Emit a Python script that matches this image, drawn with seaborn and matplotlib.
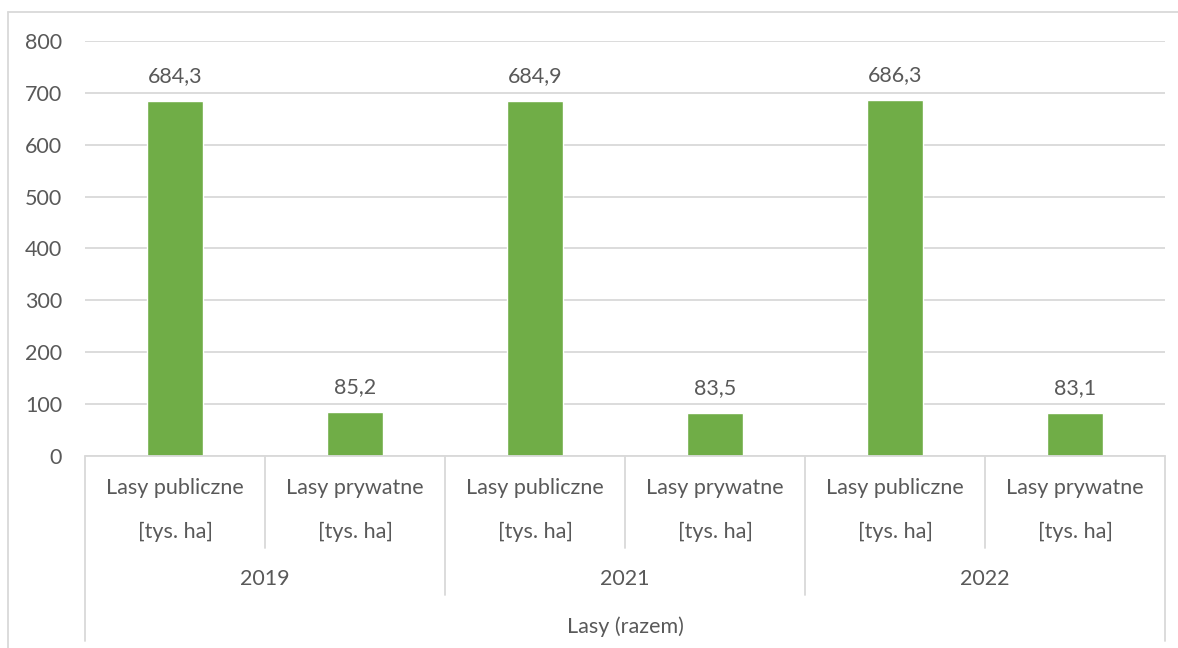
import matplotlib
matplotlib.use('Agg')
import matplotlib.pyplot as plt
import matplotlib.transforms as mtransforms
from matplotlib.lines import Line2D
import seaborn as sns
import pandas as pd

# data
years = ['2019', '2021', '2022']
kinds = ['Lasy publiczne', 'Lasy prywatne']
unit = '[tys. ha]'
values = [684.3, 85.2, 684.9, 83.5, 686.3, 83.1]
group_title = 'Lasy (razem)'
yticks = [0, 100, 200, 300, 400, 500, 600, 700, 800]

W, H = 1178, 648
TEXT = '#595959'
GRID = '#d9d9d9'
GREEN = '#70AD47'
FS = 15.5

sns.set_style('white')
plt.rcParams['font.family'] = ['Lato', 'DejaVu Sans']

keys = [f'{y}|{k}' for y in years for k in kinds]
df = pd.DataFrame({'key': keys, 'value': values})

fig = plt.figure(figsize=(W / 100, H / 100), dpi=100)
# plot area in pixels: x 85..1165, y 41..456 (from top)
x0, x1, ytop, ybot = 85, 1165, 41, 456
ax = fig.add_axes([x0 / W, 1 - ybot / H, (x1 - x0) / W, (ybot - ytop) / H])

sns.barplot(data=df, x='key', y='value', order=keys, color=GREEN,
            width=0.31, saturation=1, ax=ax, zorder=3)

ax.set_ylim(0, 800)
ax.set_xlim(-0.5, len(keys) - 0.5)
ax.set_yticks(yticks)
ax.set_yticklabels([str(t) for t in yticks], fontsize=FS, color=TEXT)
ax.tick_params(axis='y', length=0, pad=16.5)
ax.set_xticks([])
ax.set_xlabel('')
ax.set_ylabel('')
for s in ax.spines.values():
    s.set_visible(False)
ax.grid(axis='y', color=GRID, linewidth=1.3, zorder=0)
ax.set_axisbelow(True)

# data labels
for i, v in enumerate(values):
    ax.annotate(f'{v:.1f}'.replace('.', ','), (i, v), xytext=(0, 18),
                textcoords='offset points', ha='center', va='center',
                fontsize=FS, color=TEXT)

# multi-level category axis below the plot
tr = mtransforms.blended_transform_factory(ax.transData, fig.transFigure)


def fy(px):
    return 1 - px / H


def vline(x, y_from, y_to):
    fig.add_artist(Line2D([x, x], [fy(y_from), fy(y_to)], transform=tr,
                          color=GRID, linewidth=1.3))


fig.add_artist(Line2D([-0.5, len(keys) - 0.5], [fy(ybot), fy(ybot)],
                      transform=tr, color=GRID, linewidth=1.3))
for i in range(len(keys) + 1):
    xb = i - 0.5
    if i == 0 or i == len(keys):
        vline(xb, ybot, 641)
    elif i % 2 == 0:
        vline(xb, ybot, 595)
    else:
        vline(xb, ybot, 548)

for i, k in enumerate(keys):
    kind = k.split('|')[1]
    fig.text(i, fy(488), kind, transform=tr, ha='center', va='center',
             fontsize=FS, color=TEXT)
    fig.text(i, fy(532), unit, transform=tr, ha='center', va='center',
             fontsize=FS, color=TEXT)
for j, y in enumerate(years):
    fig.text(2 * j + 0.5, fy(579), y, transform=tr, ha='center',
             va='center', fontsize=FS, color=TEXT)
fig.text((len(keys) - 1) / 2, fy(627), group_title, transform=tr,
         ha='center', va='center', fontsize=FS, color=TEXT)

# outer chart frame
fig.add_artist(Line2D([8 / W, 1], [fy(12), fy(12)], color=GRID, linewidth=1.3))
fig.add_artist(Line2D([8 / W, 8 / W], [fy(12), 0], color=GRID, linewidth=1.3))

fig.savefig('out.png', dpi=100, facecolor='white')
